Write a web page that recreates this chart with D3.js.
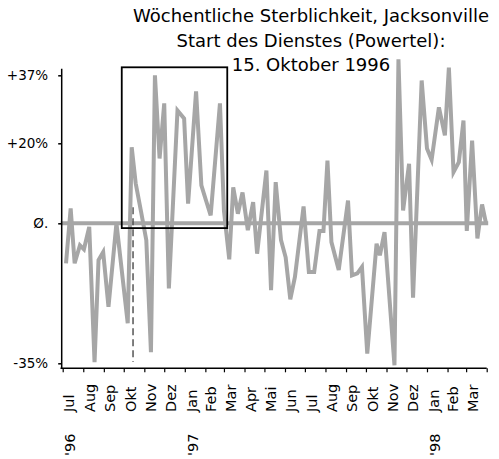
<!DOCTYPE html>
<html>
<head>
<meta charset="utf-8">
<script src="https://cdn.jsdelivr.net/npm/d3@7"></script>
<style>
  body { margin: 0; background: #fff; }
  text { font-family: "DejaVu Sans", sans-serif; fill: #000; }
</style>
</head>
<body>
<svg id="chart" width="499" height="459"></svg>
<script>
// Titel
const titleLines = [
  "Wöchentliche Sterblichkeit, Jacksonville",
  "Start des Dienstes (Powertel):",
  "15. Oktober 1996"
];

// Wochenwerte (Abweichung in %)
const weekDates = [
  "1996-07-06", "1996-07-13", "1996-07-19", "1996-07-27", "1996-08-02", "1996-08-10",
  "1996-08-18", "1996-08-24", "1996-08-31", "1996-09-08", "1996-09-20", "1996-10-07",
  "1996-10-13", "1996-10-19", "1996-10-27", "1996-11-04", "1996-11-11", "1996-11-17",
  "1996-11-24", "1996-12-01", "1996-12-08", "1996-12-21", "1996-12-31", "1997-01-06",
  "1997-01-18", "1997-01-26", "1997-02-02", "1997-02-09", "1997-02-23", "1997-03-01",
  "1997-03-09", "1997-03-15", "1997-03-22", "1997-03-29", "1997-04-06", "1997-04-14",
  "1997-04-20", "1997-05-04", "1997-05-11", "1997-05-18", "1997-05-26", "1997-06-02",
  "1997-06-09", "1997-06-16", "1997-06-29", "1997-07-07", "1997-07-15", "1997-07-23",
  "1997-07-29", "1997-08-04", "1997-08-10", "1997-08-21", "1997-09-04", "1997-09-10",
  "1997-09-18", "1997-09-25", "1997-10-03", "1997-10-17", "1997-10-22", "1997-10-29",
  "1997-11-13", "1997-11-19", "1997-11-26", "1997-12-05", "1997-12-11", "1997-12-24",
  "1998-01-01", "1998-01-08", "1998-01-19", "1998-01-28", "1998-02-03", "1998-02-10",
  "1998-02-18", "1998-02-25", "1998-03-02", "1998-03-10", "1998-03-18", "1998-03-25",
  "1998-03-31"
];
const weekValues = [
  -10, 3.7, -10, -5.5, -6.5, -0.9,
  -34.7, -9.2, -7.2, -20.9, 0, -25,
  19, 10, 3, -4.2, -32.2, 37,
  16.2, 30, -16.3, 28.2, 26.2, 4.9,
  33, 9.5, 5.7, 2, 30, 3.2,
  -9, 9, 2.4, 7.7, -1.7, 5.3,
  -7.6, 13.2, -16.7, 10.3, -4.2, -8.5,
  -19, -13.4, 4.2, -12.2, -12.2, -1.9,
  -1.9, 15.7, -4.7, -11.7, 5.7, -13,
  -12.5, -10.9, -32.6, -5.1, -8, -2.2,
  -35.5, 41, 3.2, 14.9, -18.6, 35.7,
  18.7, 15.9, 29, 22, 38.9, 12.8,
  15.3, 25.7, -1.9, 20.7, -3.8, 4.7,
  0
];

// Achsen
const yTicks = [37, 20, 0, -35];
const yTickLabels = ["+37%", "+20%", "Ø.", "-35%"];
const monthLabels = ["Jul", "Aug", "Sep", "Okt", "Nov", "Dez", "Jan", "Feb", "Mar", "Apr", "Mai",
  "Jun", "Jul", "Aug", "Sep", "Okt", "Nov", "Dez", "Jan", "Feb", "Mar"];
const yearLabels = ["'96", "'97", "'98"];
const yearDates = ["1996-07-01", "1997-01-01", "1998-01-01"];

// Markierungen
const serviceStart = "1996-10-15";
const boxDates = ["1996-09-28", "1997-03-06"];
const boxValues = [39, -1.2];

const parse = d3.timeParse("%Y-%m-%d");
const lineColor = "#a6a6a6";

const svg = d3.select("#chart");

const x = d3.scaleTime()
  .domain([parse("1996-07-01"), parse("1998-04-01")])
  .range([62.7, 486.7]);
const y = d3.scaleLinear()
  .domain([-36.25, 38.75])
  .range([368.3, 68.3]);

const data = weekDates.map((d, i) => ({ date: parse(d), value: weekValues[i] }));

// TITLE
svg.append("g")
  .selectAll("text")
  .data(titleLines)
  .enter().append("text")
  .attr("x", 311)
  .attr("y", (d, i) => 21.7 + i * 24.8)
  .attr("text-anchor", "middle")
  .style("font-size", "18px")
  .text(d => d);

// zero line
svg.append("line")
  .attr("x1", x.range()[0] - 2)
  .attr("x2", x.range()[1] + 1.5)
  .attr("y1", y(0))
  .attr("y2", y(0))
  .attr("stroke", lineColor)
  .attr("stroke-width", 4);

// dashed line: start of service
svg.append("line")
  .attr("x1", x(parse(serviceStart)))
  .attr("x2", x(parse(serviceStart)))
  .attr("y1", y(4))
  .attr("y2", y(-34.7))
  .attr("stroke", "#555")
  .attr("stroke-width", 1.5)
  .attr("stroke-dasharray", "7,4");

// SERIES
svg.append("path")
  .datum(data)
  .attr("fill", "none")
  .attr("stroke", lineColor)
  .attr("stroke-width", 4)
  .attr("stroke-linejoin", "miter")
  .attr("d", d3.line()
    .x(d => x(d.date))
    .y(d => y(d.value)));

// box
svg.append("rect")
  .attr("x", x(parse(boxDates[0])))
  .attr("y", y(boxValues[0]))
  .attr("width", x(parse(boxDates[1])) - x(parse(boxDates[0])))
  .attr("height", y(boxValues[1]) - y(boxValues[0]))
  .attr("fill", "none")
  .attr("stroke", "#000")
  .attr("stroke-width", 1.8);

// Y AXIS
const yAxis = svg.append("g")
  .attr("transform", `translate(${x.range()[0] - 1.5},0)`)
  .call(d3.axisLeft(y)
    .tickValues(yTicks)
    .tickFormat((d, i) => yTickLabels[i])
    .tickSize(3)
    .tickSizeOuter(0)
    .tickPadding(10));
yAxis.select(".domain").attr("stroke-width", 1.5);
yAxis.selectAll(".tick line").attr("stroke-width", 1.5);
yAxis.selectAll(".tick text")
  .style("font-size", "13.5px")
  .style("font-family", "'DejaVu Sans', sans-serif");

// X AXIS
const months = d3.timeMonths(parse("1996-07-01"), parse("1998-04-02"));
const xAxis = svg.append("g")
  .attr("transform", `translate(0,${y.range()[0]})`)
  .call(d3.axisBottom(x)
    .tickValues(months)
    .tickFormat("")
    .tickSize(4)
    .tickSizeOuter(0));
xAxis.select(".domain")
  .attr("d", `M${x.range()[0] - 2.2},0H${x.range()[1]}`)
  .attr("stroke-width", 1.5);
xAxis.selectAll(".tick line").attr("stroke-width", 1.2);

// month labels
const monthCenters = monthLabels.map((m, i) => (x(months[i]) + x(months[i + 1])) / 2);
svg.append("g")
  .selectAll("text")
  .data(monthLabels)
  .enter().append("text")
  .attr("transform", (d, i) => `translate(${monthCenters[i] + 1.5},412) rotate(-90)`)
  .style("font-size", "14.5px")
  .text(d => d);

// year labels
svg.append("g")
  .selectAll("text")
  .data(yearLabels)
  .enter().append("text")
  .attr("transform", (d, i) => {
    const m = parse(yearDates[i]);
    const cx = (x(m) + x(d3.timeMonth.offset(m, 1))) / 2;
    return `translate(${cx + 2.5},456) rotate(-90)`;
  })
  .style("font-size", "14.5px")
  .text(d => d);
</script>
</body>
</html>
